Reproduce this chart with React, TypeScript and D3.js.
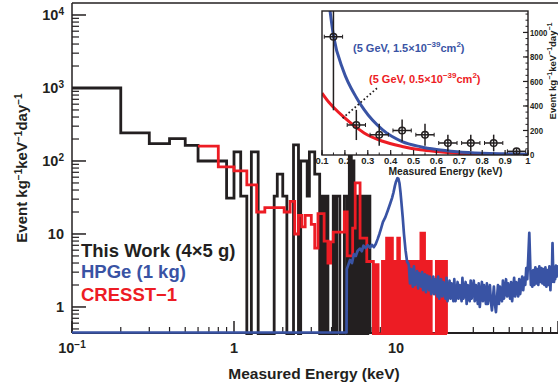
import React from 'react'
import * as d3 from 'd3'

const BLACK = '#231f20', BLUE = '#3953a4', RED = '#ed1c24'
const FONT = '"Liberation Sans", Arial, Helvetica, sans-serif'

// main panel tick labels
const xTickLabels = [{ v: 0.1, base: '10', sup: '−1' }, { v: 1, base: '1', sup: '' }, { v: 10, base: '10', sup: '' }]
const yTickLabels = [
  { v: 10000, base: '10', sup: '4' }, { v: 1000, base: '10', sup: '3' }, { v: 100, base: '10', sup: '2' },
  { v: 10, base: '10', sup: '' }, { v: 1, base: '1', sup: '' },
]

// This Work (4x5 g) histogram: bin edges (keV) and rates (0 = empty bin)
const thisWorkEdges = [0.1, 0.2, 0.3, 0.4, 0.5, 0.6, 0.9, 1.0, 1.1, 1.2, 1.28, 1.41, 1.77, 1.85, 2.0, 2.12, 2.33, 2.5, 2.58, 2.83, 2.92, 3.15, 3.38, 3.5,
  3.6, 3.7, 3.8, 4.1, 4.2, 4.3, 4.4, 4.5, 4.8, 5.0, 5.15, 5.3, 5.4, 5.5, 5.6, 5.7, 5.8, 5.9, 6.0, 6.1, 6.2, 6.3, 6.4, 6.5, 6.6, 6.7, 6.8, 6.9]
const thisWorkRates = [1000, 242, 173, 202, 164, 100, 31, 133, 33, 0, 133, 0, 33, 66, 33, 0, 166, 0, 100, 33, 133, 66, 0,
  33, 0, 33, 0, 33, 0, 33, 33, 0, 33, 0, 133, 0, 100, 0, 33, 0, 33, 0, 33, 33, 0, 33, 0, 33, 0, 33, 33]

// CRESST-1 histogram
const cresstEdges = [0.6, 0.8, 1.0, 1.2, 1.38, 1.55, 2.04, 2.22, 2.37, 2.5, 2.62, 2.75, 3.0, 3.15, 3.3, 3.6, 3.8, 3.95, 4.1, 4.8, 5.0, 5.4, 5.6, 6.0, 6.6, 7.0,
  7.25, 7.5, 7.75, 8.0, 8.25, 8.5, 8.75, 9.0, 9.25, 9.5, 9.75, 10.0, 10.25, 10.5, 10.75, 11.0, 11.25, 11.5, 11.75, 12.0, 12.25, 12.5, 12.75, 13.0,
  13.25, 13.5, 13.75, 14.0, 14.25, 14.5, 14.75, 15.0, 15.25, 15.5, 15.75, 16.0, 16.25, 16.5, 16.75, 17.0, 17.25, 17.5, 17.75, 18.0, 18.25, 18.5,
  18.75, 19.0, 19.25, 19.5, 19.75, 20.0, 20.25, 20.5]
const cresstRates = [160, 83, 73, 47, 20, 23, 20, 28, 10, 18, 12.5, 18, 13.5, 6.4, 19, 8, 4, 7.8, 10.6, 20, 5, 12, 50, 8.8, 4.2,
  4.2, 0, 3.8, 0, 0, 4.2, 0, 8.8, 0, 8.8, 0, 4.2, 0, 8.8, 0, 4.2, 0, 4.2, 0, 4.2, 0, 4.2, 0, 4.2, 0, 4.2, 0, 4.2, 0, 10.3, 0, 10.3, 0,
  4.2, 0, 4.2, 0, 4.2, 0, 0, 0, 0, 0, 4.2, 0, 4.2, 0, 4.2, 0, 4.2, 0, 4.2, 0, 4.2]

// HPGe (1 kg) spectrum: [keV, rate]
const hpgeSpectrum = [
  [0.1, 0], [4.95, 0], [4.97, 3.3], [5.1, 3.9], [5.2, 4.4], [5.35, 4.0], [5.5, 5.3], [5.65, 5.0], [5.8, 5.9], [6.0, 6.3], [6.15, 5.8],
  [6.3, 6.9], [6.5, 6.4], [6.7, 7.0], [6.9, 6.5], [7.1, 7.1], [7.3, 6.6], [7.5, 7.3], [7.7, 8.5], [7.9, 10], [8.1, 12], [8.3, 14.5],
  [8.6, 17], [8.9, 21], [9.2, 26], [9.45, 31], [9.65, 37], [9.85, 46], [10.0, 52], [10.2, 58], [10.35, 57], [10.5, 50], [10.65, 38],
  [10.8, 27], [11.0, 17], [11.2, 10], [11.45, 6], [11.7, 4.2], [12.0, 3.8], [12.2, 2.1], [12.4, 3.3], [12.7, 1.9], [12.9, 3.6], [13.1, 2.0],
  [13.5, 3.1], [13.7, 1.8], [13.9, 2.9], [14.3, 1.9], [14.5, 3.0], [14.7, 1.7], [15.1, 2.8], [15.3, 1.6], [15.6, 2.7], [16.0, 1.7],
  [16.2, 2.6], [16.5, 1.5], [17.0, 2.6], [17.2, 1.5], [17.5, 2.4], [18.0, 1.4], [18.2, 2.6], [18.5, 1.3], [19.0, 2.4], [19.3, 1.4],
  [19.6, 2.2], [20.2, 1.3], [20.5, 2.5], [20.8, 1.2], [21.4, 2.3], [21.7, 1.3], [22.0, 2.1], [22.6, 1.2], [22.9, 2.4], [23.3, 1.2],
  [24.0, 2.2], [24.3, 1.3], [24.7, 2.0], [25.4, 1.2], [25.7, 2.5], [26.1, 1.3], [26.9, 2.2], [27.3, 1.1], [27.7, 2.0], [28.5, 1.2],
  [28.9, 2.3], [29.3, 1.3], [30.2, 2.3], [30.6, 1.2], [31.1, 2.0], [32.0, 1.1], [32.4, 2.1], [32.9, 1.0], [33.9, 2.2], [34.4, 1.2],
  [34.9, 2.0], [35.9, 1.1], [36.4, 2.1], [36.9, 1.1], [38.0, 2.0], [38.5, 1.2], [39.1, 0.9], [40.2, 1.9], [40.8, 1.1], [41.4, 0.85],
  [42.6, 2.0], [43.2, 1.1], [43.8, 1.9], [45.1, 1.2], [45.7, 2.3], [46.4, 1.3], [47.8, 2.4], [48.5, 1.4], [49.2, 2.1], [50.6, 1.3],
  [51.3, 2.2], [52.1, 1.2], [53.6, 2.5], [54.4, 1.4], [55.2, 2.2], [56.8, 1.4], [57.6, 2.4], [58.4, 1.5], [60.1, 2.6], [61.0, 1.7],
  [61.9, 2.5], [62.8, 2.0], [63.7, 3.4], [64.6, 2.4], [65.5, 4.6], [66.5, 10.4], [67.4, 3.8], [68.0, 2.0], [68.5, 3.1], [69.4, 1.9],
  [70.4, 3.2], [71.4, 2.0], [72.5, 3.5], [73.5, 2.1], [74.5, 3.3], [75.6, 2.0], [76.7, 3.6], [77.8, 2.2], [79.0, 3.4], [80.1, 2.1],
  [81.2, 3.3], [82.4, 2.0], [83.6, 3.5], [84.8, 1.9], [86.0, 3.2], [87.3, 2.0], [88.5, 3.6], [89.8, 1.7], [90.6, 3.1], [91.5, 2.2],
  [92.5, 7.5], [93.5, 2.8], [94.5, 2.2], [95.3, 3.5], [96.0, 2.4], [97.0, 3.7], [98.0, 2.6], [99.0, 3.6], [100.0, 2.9],
]

// inset: WIMP curves and low-energy points
const blueCurveE = [0.125, 0.15, 0.193, 0.25, 0.284, 0.365, 0.45, 0.53, 0.6, 0.69, 0.8, 0.9, 1.0]
const blueCurveV = [1330, 975, 690, 470, 370, 205, 110, 68, 45, 27, 15, 10, 6]
const redCurveE = [0.1, 0.13, 0.15, 0.193, 0.25, 0.284, 0.365, 0.45, 0.53, 0.6, 0.69, 0.8, 0.9, 1.0]
const redCurveV = [505, 430, 390, 313, 225, 180, 112, 70, 42, 28, 15, 8, 4, 2]
const insetPtE = [0.15, 0.25, 0.35, 0.45, 0.55, 0.65, 0.75, 0.85, 0.95]
const insetPtV = [965, 245, 165, 200, 165, 98, 98, 98, 30]
const insetPtErr = [600, 123, 90, 90, 90, 68, 68, 68, 25]
const insetBinHalf = 0.04
const insetDotted = [[0.19, 300], [0.345, 553]]
const insetXTicks = [0.1, 0.2, 0.3, 0.4, 0.5, 0.6, 0.7, 0.8, 0.9, 1]
const insetYTicks = [0, 200, 400, 600, 800, 1000]

const M = { l: 72, r: 558, t: 3, b: 333 }
const I = { l: 322, r: 528, t: 11, b: 155 }

function Sup({ children, size }: { children: any; size: number }) {
  return <tspan dy={-size * 0.55} fontSize={size}>{children}</tspan>
}

export default function App() {
  const x = d3.scaleLog().domain([0.1, 100]).range([M.l, M.r])
  const y = d3.scaleLog().domain([0.44, 14600]).range([M.b, M.t])
  const yh = (v: number) => (v > 0 ? y(v) : M.b + 1)

  const stepPath = (edges: number[], vals: number[]) => {
    const pts: [number, number][] = vals.map((v, i) => [edges[i], v])
    pts.push([edges[edges.length - 1], vals[vals.length - 1]])
    pts.push([edges[edges.length - 1], 0])
    return d3.line<[number, number]>().x(d => x(d[0])).y(d => yh(d[1])).curve(d3.curveStepAfter)(pts) || ''
  }
  const bluePath = d3.line<number[]>().x(d => x(d[0])).y(d => (d[1] > 0 ? y(d[1]) : M.b - 0.5))(hpgeSpectrum) || ''

  const xMinor: number[] = []
  ;[0.1, 1, 10].forEach(dec => d3.range(2, 10).forEach(k => xMinor.push(dec * k)))
  const yMinor: number[] = []
  ;[0.1, 1, 10, 100, 1000].forEach(dec => d3.range(2, 10).forEach(k => { const v = dec * k; if (v > 0.44) yMinor.push(v) }))

  const ix = d3.scaleLinear().domain([0.1, 1]).range([I.l, I.r])
  const iy = d3.scaleLinear().domain([0, 1175]).range([I.b, I.t])
  const curve = (es: number[], vs: number[]) =>
    d3.line<number>().x((_, i) => ix(es[i])).y(d => iy(d)).curve(d3.curveMonotoneX)(vs) || ''
  const ixMinor = d3.range(0.1, 1.0001, 0.05)
  const iyMinor = d3.range(0, 1175, 50)

  const tickFont = 14.5, supFont = 10

  return (
    <svg width={558} height={391} style={{ position: 'absolute', left: 0, top: 0, background: '#fff' }}
      fontFamily={FONT} fontWeight="bold">
      <defs>
        <clipPath id="mainClip"><rect x={M.l} y={M.t} width={M.r - M.l} height={M.b - M.t + 2} /></clipPath>
        <clipPath id="insetClip"><rect x={I.l} y={I.t} width={I.r - I.l} height={I.b - I.t} /></clipPath>
      </defs>

      {/* main axes frame */}
      <g stroke={BLACK} strokeWidth={1.5} fill="none">
        <line x1={M.l} x2={M.l} y1={M.t} y2={M.b} />
        <line x1={M.l} x2={M.r} y1={M.t} y2={M.t} />
        <line x1={M.l} x2={M.r} y1={M.b} y2={M.b} strokeWidth={2} />
        {[0.1, 1, 10, 100].map(v => <line key={'xM' + v} x1={x(v)} x2={x(v)} y1={M.b} y2={M.b - 12} />)}
        {xMinor.map(v => <line key={'xm' + v} x1={x(v)} x2={x(v)} y1={M.b} y2={M.b - 6} strokeWidth={1.2} />)}
        {[1, 10, 100, 1000, 10000].map(v => <line key={'yM' + v} x1={M.l} x2={M.l + 14} y1={y(v)} y2={y(v)} />)}
        {yMinor.map(v => <line key={'ym' + v} x1={M.l} x2={M.l + 7} y1={y(v)} y2={y(v)} strokeWidth={1.2} />)}
      </g>

      {/* tick labels */}
      <g fill={BLACK} fontSize={tickFont}>
        {xTickLabels.map(t => (
          <text key={'xl' + t.v} x={x(t.v)} y={353} textAnchor="middle">
            {t.base}{t.sup && <Sup size={supFont}>{t.sup}</Sup>}
          </text>
        ))}
        {yTickLabels.map(t => (
          <text key={'yl' + t.v} x={64} y={y(t.v) + 5.3} textAnchor="end">
            {t.base}{t.sup && <Sup size={supFont}>{t.sup}</Sup>}
          </text>
        ))}
      </g>

      {/* axis titles */}
      <text x={314} y={379} textAnchor="middle" fontSize={15.5} fill={BLACK}>Measured Energy (keV)</text>
      <text transform="translate(27,168) rotate(-90)" textAnchor="middle" fontSize={15} fill={BLACK}>
        Event kg<Sup size={10}>−1</Sup><tspan dy={5.5}>keV</tspan><Sup size={10}>−1</Sup><tspan dy={5.5}>day</tspan><Sup size={10}>−1</Sup>
      </text>

      {/* data */}
      <g clipPath="url(#mainClip)" fill="none" strokeLinejoin="miter">
        <path d={stepPath(thisWorkEdges, thisWorkRates)} stroke={BLACK} strokeWidth={2.8} />
        <path d={stepPath(cresstEdges, cresstRates)} stroke={RED} strokeWidth={2.8} />
        <path d={bluePath} stroke={BLUE} strokeWidth={2.7} strokeLinejoin="round" />
      </g>

      {/* legend */}
      <g fontSize={18.5}>
        <text x={81} y={256.5} fill={BLACK}>This Work (4×5 g)</text>
        <text x={81} y={277.5} fill={BLUE}>HPGe (1 kg)</text>
        <text x={81} y={301} fill={RED}>CRESST−1</text>
      </g>

      {/* inset */}
      <rect x={I.l} y={I.t} width={I.r - I.l} height={I.b - I.t} fill="#fff" />
      <g clipPath="url(#insetClip)" fill="none">
        <path d={curve(redCurveE, redCurveV)} stroke={RED} strokeWidth={3} />
        <path d={curve(blueCurveE, blueCurveV)} stroke={BLUE} strokeWidth={3} />
        <line x1={ix(insetDotted[0][0])} y1={iy(insetDotted[0][1])} x2={ix(insetDotted[1][0])} y2={iy(insetDotted[1][1])}
          stroke={BLACK} strokeWidth={1.8} strokeDasharray="1.6 2.4" />
        <g stroke={BLACK} strokeWidth={1.5}>
          {insetPtE.map((e, i) => (
            <g key={'p' + e}>
              <line x1={ix(e)} x2={ix(e)} y1={iy(insetPtV[i] - insetPtErr[i])} y2={iy(insetPtV[i] + insetPtErr[i])} />
              <line x1={ix(e - insetBinHalf)} x2={ix(e + insetBinHalf)} y1={iy(insetPtV[i])} y2={iy(insetPtV[i])} />
              <line x1={ix(e - insetBinHalf)} x2={ix(e - insetBinHalf)} y1={iy(insetPtV[i]) - 2} y2={iy(insetPtV[i]) + 2} strokeWidth={1} />
              <line x1={ix(e + insetBinHalf)} x2={ix(e + insetBinHalf)} y1={iy(insetPtV[i]) - 2} y2={iy(insetPtV[i]) + 2} strokeWidth={1} />
              <circle cx={ix(e)} cy={iy(insetPtV[i])} r={3.3} fill="none" />
            </g>
          ))}
        </g>
      </g>
      <g stroke={BLACK} fill="none">
        <rect x={I.l} y={I.t} width={I.r - I.l} height={I.b - I.t} strokeWidth={1.4} />
        {insetXTicks.map(v => <line key={'ixt' + v} x1={ix(v)} x2={ix(v)} y1={I.b} y2={I.b - 5} strokeWidth={1.2} />)}
        {ixMinor.map(v => <line key={'ixm' + v} x1={ix(v)} x2={ix(v)} y1={I.b} y2={I.b - 2.5} strokeWidth={1} />)}
        {insetYTicks.map(v => <line key={'iyt' + v} x1={I.r} x2={I.r - 5} y1={iy(v)} y2={iy(v)} strokeWidth={1.2} />)}
        {iyMinor.map(v => <line key={'iym' + v} x1={I.r} x2={I.r - 2.5} y1={iy(v)} y2={iy(v)} strokeWidth={1} />)}
      </g>
      <g fill={BLACK} fontSize={9.5}>
        {insetXTicks.map(v => (
          <text key={'ixl' + v} x={ix(v)} y={163.5} textAnchor="middle">{v === 1 ? '1' : v.toFixed(1)}</text>
        ))}
        {insetYTicks.map(v => (
          <text key={'iyl' + v} transform={`translate(${I.r + 2},${iy(v) + 3.4}) scale(0.82,1)`}>{v}</text>
        ))}
        <text x={445.5} y={174.8} textAnchor="middle" fontSize={10.3}>Measured Energy (keV)</text>
        <text transform="translate(556,71) rotate(-90)" textAnchor="middle" fontSize={9.5}>
          Event kg<Sup size={7}>−1</Sup><tspan dy={3.9}>keV</tspan><Sup size={7}>−1</Sup><tspan dy={3.9}>day</tspan><Sup size={7}>−1</Sup>
        </text>
      </g>
      <g fontSize={11}>
        <text x={353} y={51.7} fill={BLUE}>
          (5 GeV, 1.5×10<Sup size={8}>−39</Sup><tspan dy={4.4}>cm</tspan><Sup size={8}>2</Sup><tspan dy={4.4}>)</tspan>
        </text>
        <text x={369} y={82.7} fill={RED}>
          (5 GeV, 0.5×10<Sup size={8}>−39</Sup><tspan dy={4.4}>cm</tspan><Sup size={8}>2</Sup><tspan dy={4.4}>)</tspan>
        </text>
      </g>
    </svg>
  )
}
